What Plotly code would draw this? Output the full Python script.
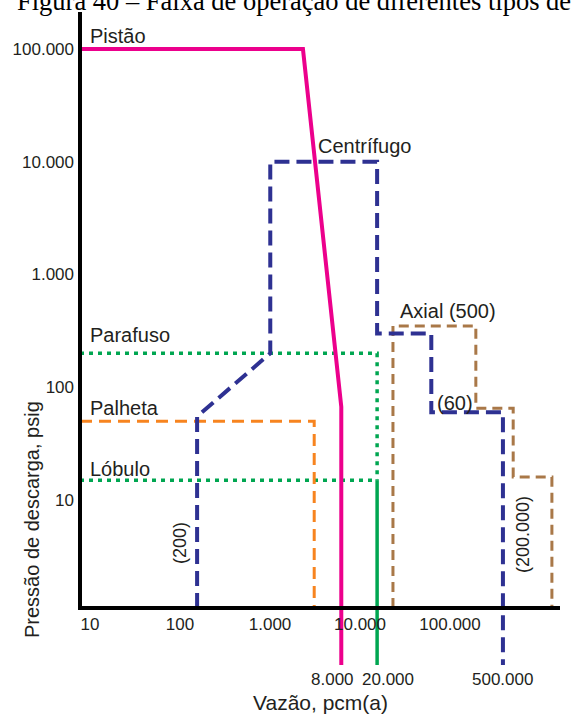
import math
import plotly.graph_objects as go

# ---- axis ticks -------------------------------------------------------
x_tick_vals = [10, 100, 1000, 10000, 100000, 1000000]
x_tick_text = ["10", "100", "1.000", "10.000", "100.000", "1.000.000"]
y_tick_vals = [10, 100, 1000, 10000, 100000]
y_tick_text = ["10", "100", "1.000", "10.000", "100.000"]

# ---- log10 ranges of the two axes --------------------------------------
x_range = [1.0, 6.333]
y_range = [-0.49, 5.328]
axis_floor = 1.1      # pressure level where the flow axis is drawn
below_axis = 0.344    # end of the lines that run past the flow axis

# ---- operating envelopes (flow in pcm, pressure in psig) ---------------
pistao_x = [10, 3000, 8000, 8000]
pistao_y = [100000, 100000, 67, below_axis]

centrifugo_x = [200, 200, 1300, 1300, 20000, 20000, 80000, 80000, 500000, 500000]
centrifugo_y = [axis_floor, 55, 200, 10000, 10000, 300, 300, 60, 60, below_axis]

parafuso_x = [10, 20000, 20000]
parafuso_y = [200, 200, 15]

palheta_x = [10, 4000, 4000]
palheta_y = [50, 50, axis_floor]

lobulo_x = [10, 20000]
lobulo_y = [15, 15]
lobulo_limit_x = [20000, 20000]
lobulo_limit_y = [15, below_axis]

axial_x = [30000, 30000, 250000, 250000, 650000, 650000, 1750000, 1750000]
axial_y = [axis_floor, 350, 350, 65, 65, 16, 16, axis_floor]

# flows marked under the axis
marked_flows = [8000, 20000, 500000]
marked_text = ["8.000", "20.000", "500.000"]
marked_shift = [-9, 11, 0]

PINK = "#ec008c"
BLUE = "#2e3192"
GREEN = "#00a651"
ORANGE = "#f7841f"
BROWN = "#a97848"
TEXT = "#231f20"
FONT = "Liberation Sans"

fig = go.Figure()


def add_line(xs, ys, color, width, dash="solid"):
    fig.add_trace(go.Scatter(
        x=xs, y=ys, mode="lines", hoverinfo="skip", showlegend=False,
        line=dict(color=color, width=width, dash=dash),
    ))


add_line(parafuso_x, parafuso_y, GREEN, 3.5, "4px,5px")
add_line(lobulo_x, lobulo_y, GREEN, 3.5, "4px,5px")
add_line(lobulo_limit_x, lobulo_limit_y, GREEN, 3.5)
add_line(palheta_x, palheta_y, ORANGE, 3, "12px,7px")
add_line(axial_x, axial_y, BROWN, 3, "10px,6px")
add_line(centrifugo_x, centrifugo_y, BLUE, 4, "15px,7px")
add_line(pistao_x, pistao_y, PINK, 4)

lg = math.log10
x_axis_pos = (lg(axis_floor) - y_range[0]) / (y_range[1] - y_range[0])

# vertical pressure axis line, from the flow axis up to the top of the plot
fig.add_shape(type="line", xref="paper", yref="y",
              x0=0, x1=0, y0=axis_floor * 0.96, y1=10 ** y_range[1],
              line=dict(color="black", width=4))


def label(text, x, y, xanchor="left", angle=0, size=20, xshift=0):
    fig.add_annotation(text=text, x=lg(x), y=lg(y), xref="x", yref="y",
                       xanchor=xanchor, yanchor="middle", showarrow=False,
                       textangle=angle, xshift=xshift,
                       font=dict(size=size, color=TEXT, family=FONT))


label("Pistão", 10, 130000, xshift=8)
label("Centrífugo", 14300, 13800, xanchor="center")
label("Parafuso", 10, 290, xshift=8)
label("Palheta", 10, 65, xshift=8)
label("Lóbulo", 10, 19, xshift=8)
label("Axial (500)", 34000, 474)
label("(60)", 88000, 72)
label("(200)", 129, 4.16, xanchor="center", angle=-90, size=18)
label("(200.000)", 836000, 4.9, xanchor="center", angle=-90, size=18)

for v, t, s in zip(marked_flows, marked_text, marked_shift):
    fig.add_annotation(text=t, x=lg(v), xref="x", y=-0.0168, yref="paper",
                       xanchor="center", yanchor="middle", showarrow=False,
                       xshift=s, font=dict(size=17, color=TEXT, family=FONT))

fig.add_annotation(text="Vazão, pcm(a)", x=0.5, y=-0.053, xref="paper", yref="paper",
                   xanchor="center", yanchor="middle", showarrow=False,
                   font=dict(size=21, color=TEXT, family=FONT))
fig.add_annotation(text="Pressão de descarga, psig", x=-0.1, y=0.2256,
                   xref="paper", yref="paper", xanchor="center", yanchor="middle",
                   textangle=-90, showarrow=False,
                   font=dict(size=20, color=TEXT, family=FONT))
fig.add_annotation(text="Figura 40 – Faixa de operação de diferentes tipos de",
                   x=-0.135, y=1.0168, xref="paper", yref="paper",
                   xanchor="left", yanchor="middle", showarrow=False,
                   font=dict(size=26.5, color="black", family="Liberation Serif"))

fig.update_layout(
    width=573, height=715,
    margin=dict(l=80, r=13, t=12, b=47),
    paper_bgcolor="white", plot_bgcolor="white",
    showlegend=False,
    xaxis=dict(type="log", range=x_range, anchor="free", position=x_axis_pos,
               showline=True, linewidth=4, linecolor="black",
               showgrid=False, zeroline=False, ticks="",
               tickvals=x_tick_vals, ticktext=x_tick_text, ticklabelshift=10,
               tickfont=dict(size=17, color=TEXT, family=FONT)),
    yaxis=dict(type="log", range=y_range, showline=False, showgrid=False,
               zeroline=False, ticks="", ticklabelstandoff=5,
               tickvals=y_tick_vals, ticktext=y_tick_text,
               tickfont=dict(size=17, color=TEXT, family=FONT)),
)

fig.write_html("out.html")
